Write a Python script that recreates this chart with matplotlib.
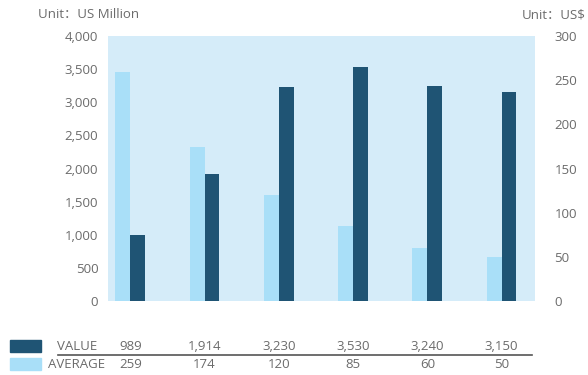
import numpy as np
import matplotlib
matplotlib.use('Agg')
import matplotlib.pyplot as plt
import matplotlib.transforms as mtransforms
from matplotlib.patches import Rectangle
from matplotlib.lines import Line2D

plt.rcParams['font.family'] = ['Open Sans', 'Noto Sans CJK SC', 'DejaVu Sans']

years = ['2009', '2010', '2011(e)', '2012(f)', '2013(f)', '2014(f)']
value = [989, 1914, 3230, 3530, 3240, 3150]
average = [259, 174, 120, 85, 60, 50]

DARK = '#1f5474'
LIGHT = '#a9dff8'
BG = '#d5ecf9'
GREY = '#6b6b6b'

W, H = 588, 375
fig = plt.figure(figsize=(W / 100, H / 100), dpi=100)
ax = fig.add_axes([108 / W, 1 - 301 / H, (535 - 108) / W, (301 - 36) / H])
ax2 = ax.twinx()

x = np.arange(len(years))
bw = 0.2
ax2.bar(x - bw / 2, average, width=bw, color=LIGHT, zorder=2)
ax.bar(x + bw / 2, value, width=bw, color=DARK, zorder=2)

# value axis on top, background carried by the average axis
ax.set_zorder(2)
ax2.set_zorder(1)
ax.patch.set_visible(False)
ax2.patch.set_visible(True)
ax2.patch.set_facecolor(BG)

for a in (ax, ax2):
    a.set_xlim(-0.3, 5.45)
    for s in a.spines.values():
        s.set_visible(False)
    a.tick_params(length=0, labelsize=9.5, labelcolor=GREY)

ax.set_ylim(0, 4000)
ax.set_yticks(range(0, 4001, 500))
ax.set_yticklabels([f'{v:,}' for v in range(0, 4001, 500)])
ax.tick_params(axis='y', pad=7)
ax2.set_ylim(0, 300)
ax2.set_yticks(range(0, 301, 50))
ax2.tick_params(axis='y', pad=14)

ax.set_xticks(x)
ax.set_xticklabels(years)
ax.tick_params(axis='x', pad=14)
ax2.set_xticks([])

# table below the chart
tr = mtransforms.blended_transform_factory(ax.transData, fig.transFigure)
for i in x:
    ax.text(i, 1 - 346 / H, f'{value[i]:,}', transform=tr, ha='center', va='center',
            fontsize=9.5, color=GREY, clip_on=False)
    ax.text(i, 1 - 365 / H, f'{average[i]:,}', transform=tr, ha='center', va='center',
            fontsize=9.5, color=GREY, clip_on=False)

fig.text(77 / W, 1 - 346 / H, 'VALUE', ha='center', va='center', fontsize=9.5, color=GREY)
fig.text(77 / W, 1 - 365 / H, 'AVERAGE', ha='center', va='center', fontsize=9.5, color=GREY)
fig.patches.append(Rectangle((10 / W, 1 - 352 / H), 31 / W, 12 / H, color=DARK,
                             transform=fig.transFigure))
fig.patches.append(Rectangle((10 / W, 1 - 370 / H), 31 / W, 12 / H, color=LIGHT,
                             transform=fig.transFigure))
fig.lines.append(Line2D([58 / W, 532 / W], [1 - 355 / H, 1 - 355 / H], color='#555555',
                        lw=1.2, transform=fig.transFigure))

fig.text(38 / W, 1 - 15 / H, 'Unit：US Million', ha='left', va='center', fontsize=9.5, color=GREY)
fig.text(586 / W, 1 - 15 / H, 'Unit：US$', ha='right', va='center', fontsize=9.5, color=GREY)

fig.savefig('out.png', dpi=100)
